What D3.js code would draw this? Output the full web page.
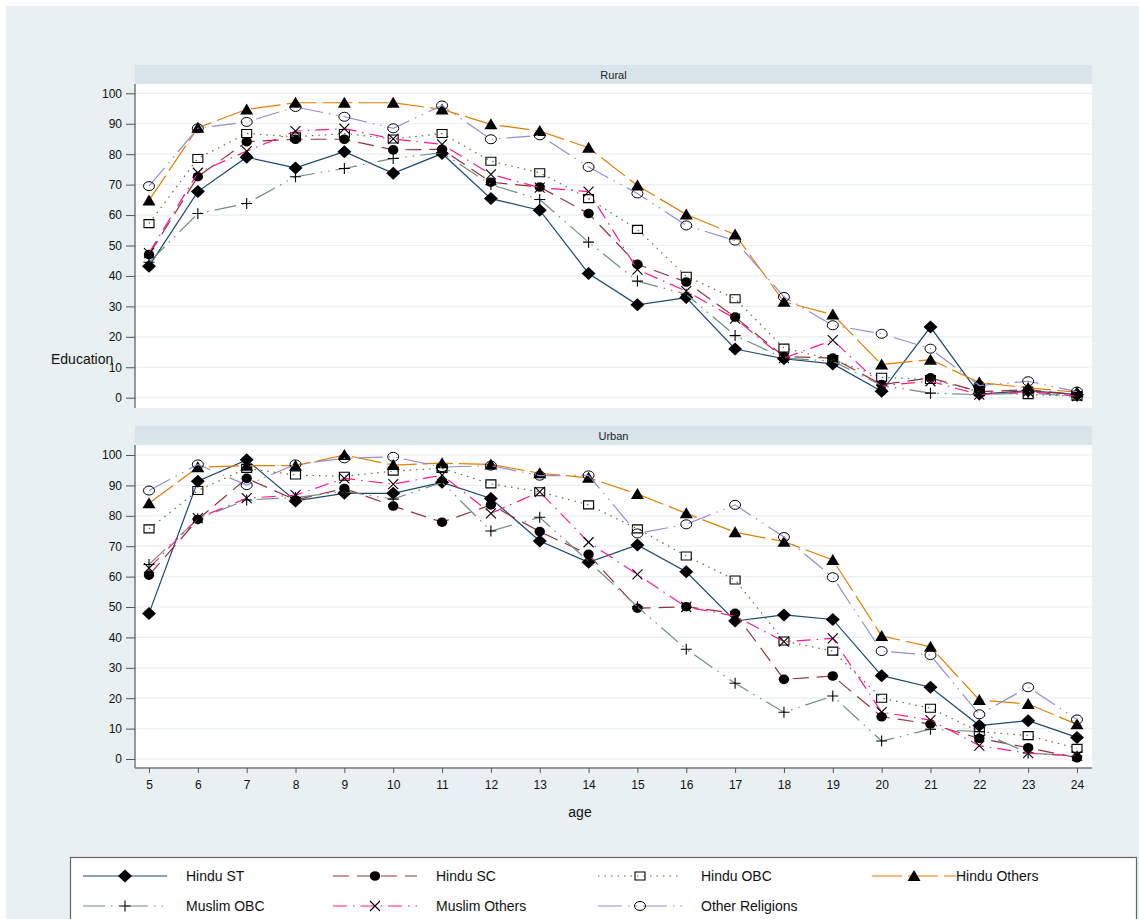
<!DOCTYPE html>
<html><head><meta charset="utf-8">
<script src="https://cdn.jsdelivr.net/npm/d3@7"></script>
<style>body{margin:0;background:#fff}svg{display:block;font-family:"Liberation Sans",Arial,sans-serif}</style>
</head><body><svg id="c" width="1139" height="919"></svg>
<script>
const ages = [5,6,7,8,9,10,11,12,13,14,15,16,17,18,19,20,21,22,23,24];
const seriesNames = ["Hindu ST","Hindu SC","Hindu OBC","Hindu Others","Muslim OBC","Muslim Others","Other Religions"];
const panelNames = ["Rural","Urban"];
const yTicks = [0,10,20,30,40,50,60,70,80,90,100];

const ruralHinduST      = [43.2,67.7,79,75.5,80.8,73.7,80.2,65.4,61.6,40.8,30.5,32.9,16,12.8,11.1,2.1,23.2,1.2,2.3,1];
const ruralHinduSC      = [47,72.6,84.1,84.9,84.9,81.4,81.6,70.8,69.2,60.5,43.8,38,26.5,13.5,13,4.3,6.5,2,2.6,1];
const ruralHinduOBC     = [57.2,78.6,86.8,85.7,86.8,85,86.8,77.7,73.9,65.4,55.3,39.9,32.5,16.3,12.5,6.7,6,2,1,0.5];
const ruralHinduOthers  = [64.8,88.7,94.7,96.9,96.9,96.9,94.7,89.8,87.6,82.1,69.7,60.2,53.6,31.5,27.3,10.9,12.5,5,3.2,1.8];
const ruralMuslimOBC    = [44.5,60.5,63.8,72.6,75.3,78.6,80.5,70,65.1,51.1,38.3,34,20.4,13,12,4,1.5,1,1.5,0.5];
const ruralMuslimOthers = [47.5,73.9,81,87.6,88.4,85,83.2,73.4,69,67.7,42.1,35,26,13,18.9,4,5.4,1,2,0.5];
const ruralOtherRel     = [69.5,88.5,90.6,95.5,92.3,88.5,96,84.9,86.2,75.8,67.1,56.6,51.6,33.1,23.8,21,16.1,4,5.4,2];

const urbanHinduST      = [47.9,91.4,98.4,84.9,87.4,87.4,91,85.7,71.7,64.7,70.4,61.6,45.4,47.4,45.9,27.4,23.6,11,12.6,7.1];
const urbanHinduSC      = [60.5,78.8,92.3,85.2,89,83.2,77.9,83.6,74.8,67.3,49.6,50.1,47.9,26.2,27.3,13.9,11.5,6.8,3.7,0.4];
const urbanHinduOBC     = [75.7,88.3,95.6,93.4,93,94.7,95.6,90.5,87.9,83.6,75.7,66.8,58.9,38.8,35.5,20,16.7,9,7.7,3.5];
const urbanHinduOthers  = [84.1,96,96.5,96.5,100,96.7,97.3,96.9,94,92.5,87.2,80.8,74.6,71.5,65.5,40.5,36.9,19.4,18.1,11.4];
const urbanMuslimOBC    = [64,79,85.2,86,88,85.5,91,75,79.5,65,50.1,36.1,24.9,15.4,20.7,5.9,9.8,9,2,1];
const urbanMuslimOthers = [62.8,79.2,85.8,86.8,92.3,90.4,93.4,80.8,87.9,71.3,60.7,50,47,38.6,39.7,15.4,12.8,4.4,1.9,1];
const urbanOtherRel     = [88.3,96.9,90.1,96.9,98.9,99.4,96,96.5,93.2,93.3,74.2,77.2,83.6,73,59.8,35.5,34.2,14.7,23.6,13];

const ruralData = [ruralHinduST,ruralHinduSC,ruralHinduOBC,ruralHinduOthers,ruralMuslimOBC,ruralMuslimOthers,ruralOtherRel];
const urbanData = [urbanHinduST,urbanHinduSC,urbanHinduOBC,urbanHinduOthers,urbanMuslimOBC,urbanMuslimOthers,urbanOtherRel];

const colors = ["#1a476f","#90353b","#55752f","#e37e00","#6e8e84","#ff1a8c","#938dd2"];
const dashes = [null,"16,8","1.5,5","30,6","22,6,1.5,6,1.5,6","14,6,1.5,6","24,6,1.5,6,1.5,6"];
const markers = ["diamond","dot","square","triangle","plus","x","circle"];

const svg = d3.select("#c");
svg.append("rect").attr("x",0).attr("y",0).attr("width",1139).attr("height",919).attr("fill","#ffffff");
svg.append("rect").attr("x",6).attr("y",6).attr("width",1133).attr("height",913).attr("fill","#e8f0f2");

const L = 135, R = 1092;
const x = d3.scaleLinear().domain([5,24]).range([149,1077]);
const panels = [
  {name:panelNames[0], data:ruralData, stripTop:65, plotTop:84, plotBot:408, y:d3.scaleLinear().domain([0,100]).range([397.7,93.3])},
  {name:panelNames[1], data:urbanData, stripTop:426, plotTop:445, plotBot:768, y:d3.scaleLinear().domain([0,100]).range([759,455])}
];

function markerPath(type){
  switch(type){
    case "diamond": return "M0,-6.5L7,0L0,6.5L-7,0Z";
    case "triangle": return "M0,-6L6.5,5L-6.5,5Z";
    case "square": return "M-5,-4H5V4H-5Z";
    case "plus": return "M-5.5,0H5.5M0,-5.5V5.5";
    case "x": return "M-5,-5L5,5M5,-5L-5,5";
  }
  return null;
}
function drawMarker(g, type, cx, cy){
  if(type==="dot"){
    g.append("ellipse").attr("cx",cx).attr("cy",cy).attr("rx",5.2).attr("ry",4.8).attr("fill","#000");
  } else if(type==="circle"){
    g.append("ellipse").attr("cx",cx).attr("cy",cy).attr("rx",5.5).attr("ry",4.5).attr("fill","none").attr("stroke","#000").attr("stroke-width",1);
  } else {
    const filled = (type==="diamond"||type==="triangle");
    g.append("path").attr("d",markerPath(type)).attr("transform",`translate(${cx},${cy})`)
      .attr("fill",filled?"#000":"none").attr("stroke",filled?"none":"#000").attr("stroke-width",1.1);
  }
}

panels.forEach((p,pi)=>{
  const g = svg.append("g");
  g.append("rect").attr("x",L).attr("y",p.stripTop).attr("width",R-L).attr("height",p.plotTop-p.stripTop).attr("fill","#d9e5eb");
  g.append("text").attr("x",(L+R)/2).attr("y",(p.stripTop+p.plotTop)/2+4).attr("text-anchor","middle")
    .attr("font-size",11).attr("fill","#222").text(p.name);
  g.append("rect").attr("x",L).attr("y",p.plotTop).attr("width",R-L).attr("height",p.plotBot-p.plotTop).attr("fill","#fff");
  // grid
  g.selectAll(".grid").data(yTicks).enter().append("line")
    .attr("x1",L).attr("x2",R).attr("y1",d=>p.y(d)).attr("y2",d=>p.y(d))
    .attr("stroke","#e9f0f2").attr("stroke-width",1.2);
  // y axis
  const ya = d3.axisLeft(p.y).tickValues(yTicks).tickSize(9).tickPadding(4);
  const yg = g.append("g").attr("transform",`translate(${L},0)`).call(ya);
  yg.select(".domain").attr("d",`M0,${p.plotTop}V${p.plotBot}`).attr("stroke","#777").attr("stroke-width",1.5);
  yg.selectAll(".tick line").attr("stroke","#555");
  yg.selectAll(".tick text").attr("font-size",12).attr("fill","#111").attr("font-family","Liberation Sans, Arial, sans-serif");
  if(pi===1){
    const xa = d3.axisBottom(x).tickValues(ages).tickSize(5).tickPadding(7).tickFormat(d3.format("d"));
    const xg = g.append("g").attr("transform",`translate(0,${p.plotBot})`).call(xa);
    xg.select(".domain").attr("d",`M${L},0H${R}`).attr("stroke","#777").attr("stroke-width",1.5);
    xg.selectAll(".tick line").attr("stroke","#555");
    xg.selectAll(".tick text").attr("font-size",12).attr("fill","#111").attr("font-family","Liberation Sans, Arial, sans-serif");
  }
  // series
  p.data.forEach((vals,si)=>{
    const line = d3.line().x((d,i)=>x(ages[i])).y(d=>p.y(d));
    g.append("path").attr("d",line(vals)).attr("fill","none").attr("stroke",colors[si])
      .attr("stroke-width",1.2).attr("stroke-dasharray",dashes[si]);
    vals.forEach((v,i)=>drawMarker(g,markers[si],x(ages[i]),p.y(v)));
  });
});

svg.append("text").attr("x",51).attr("y",364).attr("font-size",14).attr("fill","#111").text("Education");
svg.append("text").attr("x",580).attr("y",817).attr("text-anchor","middle").attr("font-size",14).attr("fill","#111").text("age");

// legend
const lg = svg.append("g");
lg.append("rect").attr("x",70.5).attr("y",857.5).attr("width",1066).attr("height",80).attr("fill","#fff").attr("stroke","#666").attr("stroke-width",1.2);
const legCols = [83,333,598,872];
const legRows = [876,906];
seriesNames.forEach((name,si)=>{
  const cx = legCols[si%4], cy = legRows[Math.floor(si/4)];
  lg.append("line").attr("x1",cx).attr("x2",cx+84).attr("y1",cy).attr("y2",cy).attr("stroke",colors[si])
    .attr("stroke-width",1.2).attr("stroke-dasharray",dashes[si]);
  drawMarker(lg,markers[si],cx+42,cy);
  lg.append("text").attr("x",si===3?cx+84:cx+103).attr("y",cy+5).attr("font-size",14).attr("fill","#111").text(name);
});
</script></body></html>
